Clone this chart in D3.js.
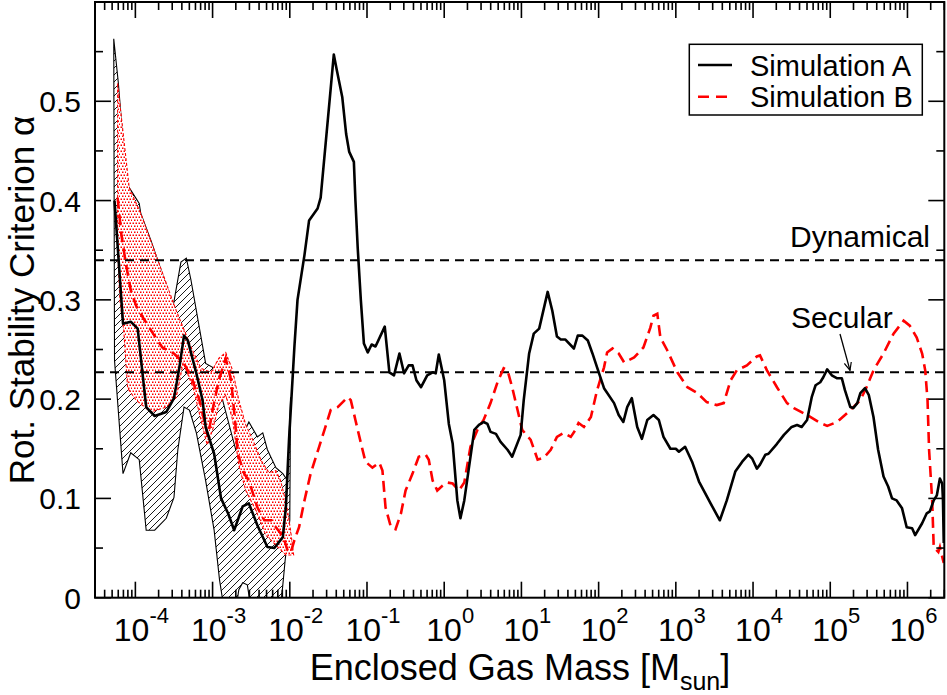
<!DOCTYPE html>
<html><head><meta charset="utf-8">
<script src="https://cdn.jsdelivr.net/npm/d3@7"></script>
<style>body{margin:0;background:#fff}svg{display:block}text{font-family:"Liberation Sans",Arial,Helvetica,sans-serif;fill:#000}</style>
</head><body><svg id="c" width="947" height="695"></svg>
<script>
// log10 of enclosed gas mass [Msun] and alpha values
const simA_logM = [-4.27,-4.16,-4.06,-3.97,-3.86,-3.75,-3.60,-3.50,-3.43,-3.37,-3.32,-3.21,-3.13,-3.09,-2.98,-2.89,-2.80,-2.72,-2.61,-2.53,-2.42,-2.29,-2.20,-2.09,-2.05,-2.01,-1.94,-1.90,-1.81,-1.75,-1.64,-1.60,-1.47,-1.43,-1.39,-1.32,-1.27,-1.23,-1.17,-1.15,-1.12,-1.08,-1.04,-0.99,-0.94,-0.89,-0.77,-0.71,-0.65,-0.58,-0.52,-0.46,-0.41,-0.36,-0.30,-0.22,-0.15,-0.11,-0.07,0.00,0.06,0.11,0.17,0.21,0.26,0.39,0.45,0.51,0.56,0.60,0.67,0.73,0.82,0.88,0.99,1.03,1.10,1.16,1.23,1.34,1.40,1.46,1.51,1.57,1.68,1.73,1.79,1.86,1.92,1.98,2.07,2.20,2.26,2.32,2.37,2.43,2.50,2.56,2.63,2.71,2.78,2.84,2.93,3.00,3.04,3.12,3.21,3.30,3.45,3.57,3.66,3.77,3.86,3.94,3.99,4.05,4.09,4.16,4.20,4.31,4.40,4.50,4.57,4.63,4.70,4.76,4.81,4.87,4.91,4.96,5.02,5.09,5.15,5.19,5.26,5.30,5.35,5.39,5.45,5.50,5.56,5.62,5.69,5.75,5.80,5.86,5.93,5.99,6.06,6.10,6.19,6.25,6.29,6.34,6.38,6.42,6.45,6.46,6.47];
const simA_alpha = [0.400,0.276,0.278,0.271,0.192,0.183,0.187,0.201,0.232,0.264,0.259,0.226,0.199,0.172,0.145,0.100,0.085,0.068,0.092,0.095,0.073,0.051,0.050,0.061,0.092,0.159,0.253,0.300,0.345,0.380,0.392,0.403,0.513,0.547,0.531,0.504,0.467,0.449,0.439,0.400,0.352,0.300,0.256,0.247,0.255,0.253,0.273,0.227,0.224,0.246,0.226,0.234,0.234,0.219,0.212,0.224,0.227,0.226,0.245,0.219,0.175,0.155,0.098,0.080,0.098,0.169,0.174,0.177,0.175,0.167,0.165,0.157,0.149,0.142,0.164,0.199,0.246,0.266,0.271,0.308,0.289,0.263,0.260,0.260,0.251,0.264,0.264,0.259,0.246,0.232,0.211,0.196,0.184,0.177,0.192,0.201,0.172,0.160,0.179,0.184,0.179,0.162,0.150,0.150,0.147,0.152,0.137,0.117,0.095,0.078,0.098,0.127,0.137,0.144,0.140,0.130,0.134,0.144,0.145,0.155,0.164,0.172,0.174,0.172,0.179,0.202,0.214,0.217,0.222,0.230,0.224,0.221,0.221,0.209,0.192,0.191,0.196,0.206,0.211,0.204,0.182,0.149,0.122,0.112,0.100,0.098,0.090,0.071,0.070,0.063,0.075,0.085,0.087,0.098,0.103,0.120,0.115,0.098,0.055];

const simB_logM = [-4.23,-4.18,-4.12,-4.06,-3.99,-3.90,-3.77,-3.65,-3.50,-3.37,-3.26,-3.17,-3.11,-3.06,-3.00,-2.92,-2.83,-2.76,-2.71,-2.67,-2.59,-2.53,-2.46,-2.42,-2.33,-2.24,-2.18,-2.12,-2.07,-2.03,-1.99,-1.94,-1.88,-1.81,-1.73,-1.62,-1.53,-1.47,-1.38,-1.25,-1.21,-1.15,-1.08,-1.02,-0.93,-0.84,-0.80,-0.76,-0.69,-0.63,-0.56,-0.50,-0.41,-0.33,-0.24,-0.20,-0.15,-0.09,-0.02,0.04,0.11,0.19,0.26,0.34,0.43,0.51,0.60,0.69,0.77,0.82,0.88,0.95,1.01,1.12,1.21,1.29,1.38,1.46,1.55,1.64,1.70,1.74,1.81,1.90,1.98,2.07,2.11,2.18,2.26,2.33,2.46,2.58,2.67,2.71,2.76,2.80,2.89,3.02,3.15,3.28,3.40,3.53,3.62,3.71,3.79,3.92,4.05,4.09,4.18,4.31,4.44,4.53,4.70,4.87,4.96,5.09,5.22,5.39,5.47,5.56,5.69,5.82,5.95,6.03,6.12,6.19,6.23,6.26,6.28,6.32,6.34,6.40,6.42,6.46,6.47];
const simB_alpha = [0.403,0.365,0.335,0.310,0.294,0.282,0.266,0.252,0.246,0.236,0.219,0.199,0.179,0.162,0.189,0.219,0.241,0.219,0.179,0.144,0.125,0.118,0.101,0.091,0.078,0.078,0.071,0.065,0.058,0.048,0.045,0.058,0.071,0.098,0.125,0.152,0.174,0.189,0.192,0.202,0.199,0.179,0.156,0.137,0.131,0.136,0.128,0.091,0.071,0.069,0.085,0.108,0.125,0.142,0.144,0.139,0.118,0.108,0.113,0.116,0.115,0.108,0.116,0.152,0.169,0.179,0.196,0.217,0.231,0.229,0.212,0.189,0.169,0.159,0.139,0.141,0.149,0.162,0.166,0.162,0.169,0.176,0.172,0.182,0.209,0.232,0.247,0.251,0.246,0.237,0.242,0.252,0.272,0.284,0.286,0.262,0.249,0.227,0.212,0.206,0.197,0.194,0.196,0.219,0.229,0.234,0.243,0.244,0.229,0.212,0.196,0.191,0.184,0.176,0.173,0.177,0.186,0.199,0.212,0.229,0.246,0.266,0.279,0.274,0.262,0.246,0.229,0.199,0.149,0.098,0.051,0.046,0.051,0.038,0.035];

// Spread bands (upper and lower edges)
const bandA_upper_logM = [-4.28,-4.22,-4.12,-4.08,-3.95,-3.93,-3.80,-3.60,-3.51,-3.41,-3.34,-3.28,-3.09,-3.00,-2.96,-2.87,-2.70,-2.53,-2.42,-2.35,-2.29,-2.18,-2.09,-2.03,-1.99];
const bandA_upper_alpha = [0.563,0.518,0.420,0.413,0.397,0.387,0.360,0.315,0.294,0.338,0.342,0.320,0.236,0.232,0.216,0.199,0.149,0.177,0.162,0.166,0.149,0.131,0.125,0.118,0.202];
const bandA_lower_logM = [-4.28,-4.27,-4.16,-4.06,-3.95,-3.86,-3.75,-3.60,-3.50,-3.45,-3.37,-3.30,-3.21,-3.09,-2.98,-2.91,-2.85,-2.70,-2.66,-2.61,-2.55,-2.50,-2.12,-2.06,-2.00,-1.99];
const bandA_lower_alpha = [0.563,0.239,0.125,0.146,0.139,0.068,0.068,0.080,0.101,0.149,0.192,0.189,0.166,0.118,0.068,0.018,-0.012,-0.012,0.008,0.015,0.013,-0.012,-0.012,0.038,0.078,0.202];

const bandB_upper_logM = [-4.23,-4.08,-3.93,-3.47,-3.26,-3.15,-3.02,-2.92,-2.83,-2.74,-2.66,-2.57,-2.48,-2.37,-2.27,-2.18,-2.12,-2.04,-1.99,-1.95];
const bandB_upper_alpha = [0.518,0.413,0.387,0.289,0.249,0.231,0.227,0.241,0.247,0.229,0.199,0.174,0.159,0.138,0.126,0.128,0.118,0.093,0.068,0.043];
const bandB_lower_logM = [-4.23,-4.20,-4.15,-4.10,-3.99,-3.80,-3.60,-3.47,-3.38,-3.25,-3.15,-3.07,-3.00,-2.92,-2.83,-2.74,-2.66,-2.57,-2.44,-2.31,-2.18,-2.05,-1.95];
const bandB_lower_alpha = [0.350,0.299,0.269,0.211,0.199,0.187,0.192,0.202,0.237,0.211,0.179,0.154,0.169,0.194,0.204,0.179,0.133,0.108,0.088,0.063,0.053,0.043,0.043];

const thresholds = [{name:"Dynamical", value:0.34}, {name:"Secular", value:0.227}];
const yTicks = [0, 0.1, 0.2, 0.3, 0.4, 0.5];
const xDecades = [-4, -3, -2, -1, 0, 1, 2, 3, 4, 5, 6];
const seriesNames = ["Simulation A", "Simulation B"];

const svg = d3.select("#c");
const L = 95, R = 944.3, T = 2, B = 597.7;
const x = d3.scaleLog().domain([3e-5, 3e6]).range([L, R]);
const y = d3.scaleLinear().domain([0, 0.6]).range([B, T]);

const defs = svg.append("defs");
defs.append("clipPath").attr("id","clip").append("rect").attr("x",L).attr("y",T).attr("width",R-L).attr("height",B-T);
const hp = defs.append("pattern").attr("id","hatch").attr("patternUnits","userSpaceOnUse").attr("width",7).attr("height",7);
hp.append("path").attr("d","M-1,8 L8,-1 M-1,1 L1,-1 M6,8 L8,6").attr("stroke","#000").attr("stroke-width",0.9);
const dp = defs.append("pattern").attr("id","dots").attr("patternUnits","userSpaceOnUse").attr("width",6).attr("height",6);
dp.append("rect").attr("width",6).attr("height",6).attr("fill","#fff");
[[0,0],[3,0],[1.5,3],[4.5,3]].forEach(([a,b])=>
  dp.append("rect").attr("x",a+0.5).attr("y",b+0.5).attr("width",1.5).attr("height",1.5).attr("fill","#ff0000"));
defs.append("marker").attr("id","arr").attr("viewBox","0 0 10 10").attr("refX",9).attr("refY",5)
  .attr("markerWidth",9).attr("markerHeight",9).attr("orient","auto").attr("markerUnits","userSpaceOnUse")
  .append("path").attr("d","M0,1 L9,5 L0,9").attr("fill","none").attr("stroke","#000").attr("stroke-width",1.3);

const plot = svg.append("g").attr("clip-path","url(#clip)");
const toPts = (lm, al) => lm.map((v,i)=>[Math.pow(10,v), al[i]]);
const line = d3.line().x(d=>x(d[0])).y(d=>y(d[1]));

function band(upL, upA, loL, loA, fill, stroke, dash){
  const pts = toPts(upL, upA).concat(toPts(loL, loA).reverse());
  plot.append("path").attr("d", line(pts)+"Z").attr("fill", fill).attr("stroke","none");
  plot.append("path").attr("d", line(pts)+"Z").attr("fill","none").attr("stroke",stroke).attr("stroke-width",1.1).attr("stroke-dasharray",dash);
}
band(bandA_upper_logM, bandA_upper_alpha, bandA_lower_logM, bandA_lower_alpha, "url(#hatch)", "#000", null);
band(bandB_upper_logM, bandB_upper_alpha, bandB_lower_logM, bandB_lower_alpha, "url(#dots)", "#ff0000", "3,2");

// threshold lines
plot.selectAll(".thr").data(thresholds).enter().append("line")
  .attr("x1",L).attr("x2",R).attr("y1",d=>y(d.value)).attr("y2",d=>y(d.value))
  .attr("stroke","#000").attr("stroke-width",2).attr("stroke-dasharray","9,6");

plot.append("path").attr("d", line(toPts(simB_logM, simB_alpha))).attr("fill","none")
  .attr("stroke","#ff0000").attr("stroke-width",2.6).attr("stroke-dasharray","11,6");
plot.append("path").attr("d", line(toPts(simA_logM, simA_alpha))).attr("fill","none")
  .attr("stroke","#000").attr("stroke-width",2.6).attr("stroke-linejoin","round");

// frame
svg.append("rect").attr("x",L).attr("y",T).attr("width",R-L).attr("height",B-T).attr("fill","none").attr("stroke","#000").attr("stroke-width",2);

// y ticks (inward, mirrored)
const yMinor = d3.range(0, 0.6001, 0.05);
const axT = svg.append("g").attr("stroke","#000").attr("stroke-width",1.6);
yMinor.forEach(v=>{
  const major = Math.abs(v*10 - Math.round(v*10)) < 1e-6;
  const len = major ? 16 : 8;
  axT.append("line").attr("x1",L).attr("x2",L+len).attr("y1",y(v)).attr("y2",y(v));
  axT.append("line").attr("x1",R).attr("x2",R-len).attr("y1",y(v)).attr("y2",y(v));
});
svg.selectAll(".yl").data(yTicks).enter().append("text")
  .attr("x",81).attr("y",d=>y(d)+11).attr("text-anchor","end").attr("font-size",30)
  .text(d=>d===0?"0":d3.format(".1f")(d));

// x ticks
const xMinor = [];
for(let e=-5;e<=6;e++){ for(let k=1;k<10;k++){ const v=k*Math.pow(10,e); if(v>=3e-5 && v<=3e6) xMinor.push([v,k===1]); } }
xMinor.forEach(([v,major])=>{
  const len = major ? 16 : 8;
  axT.append("line").attr("x1",x(v)).attr("x2",x(v)).attr("y1",B).attr("y2",B-len);
  axT.append("line").attr("x1",x(v)).attr("x2",x(v)).attr("y1",T).attr("y2",T+len);
});
const xl = svg.selectAll(".xl").data(xDecades).enter().append("text")
  .attr("x",d=>x(Math.pow(10,d))+6).attr("y",641).attr("text-anchor","middle").attr("font-size",32);
xl.append("tspan").text("10");
xl.append("tspan").attr("dy",-18).attr("font-size",22).text(d=>d<0?"-"+(-d):String(d));

// axis titles
const xt = svg.append("text").attr("x",520).attr("y",680).attr("text-anchor","middle").attr("font-size",36);
xt.append("tspan").text("Enclosed Gas Mass [M");
xt.append("tspan").attr("dy",10).attr("font-size",25).text("sun");
xt.append("tspan").attr("dy",-10).text("]");
svg.append("text").attr("transform","translate(34,300) rotate(-90)").attr("text-anchor","middle").attr("font-size",35)
  .text("Rot. Stability Criterion  \u03b1");

// annotations
svg.append("text").attr("x",790).attr("y",247).attr("font-size",30).text(thresholds[0].name);
svg.append("text").attr("x",791).attr("y",328).attr("font-size",30).text(thresholds[1].name);
svg.append("line").attr("x1",840).attr("y1",334).attr("x2",850).attr("y2",y(thresholds[1].value)-2)
  .attr("stroke","#000").attr("stroke-width",1.3).attr("marker-end","url(#arr)");

// legend
const lg = svg.append("g");
lg.append("rect").attr("x",689.3).attr("y",44.3).attr("width",233).attr("height",70.7).attr("fill","#fff").attr("stroke","#000").attr("stroke-width",1.5);
const lgStyles = [{c:"#000",d:null},{c:"#ff0000",d:"11,7"}];
seriesNames.forEach((n,i)=>{
  const yy = 65 + i*31.7;
  lg.append("line").attr("x1",698).attr("x2",732).attr("y1",yy).attr("y2",yy).attr("stroke",lgStyles[i].c).attr("stroke-width",2.6).attr("stroke-dasharray",lgStyles[i].d);
  lg.append("text").attr("x",750).attr("y",yy+10.5).attr("font-size",29).text(n);
});
</script></body></html>
